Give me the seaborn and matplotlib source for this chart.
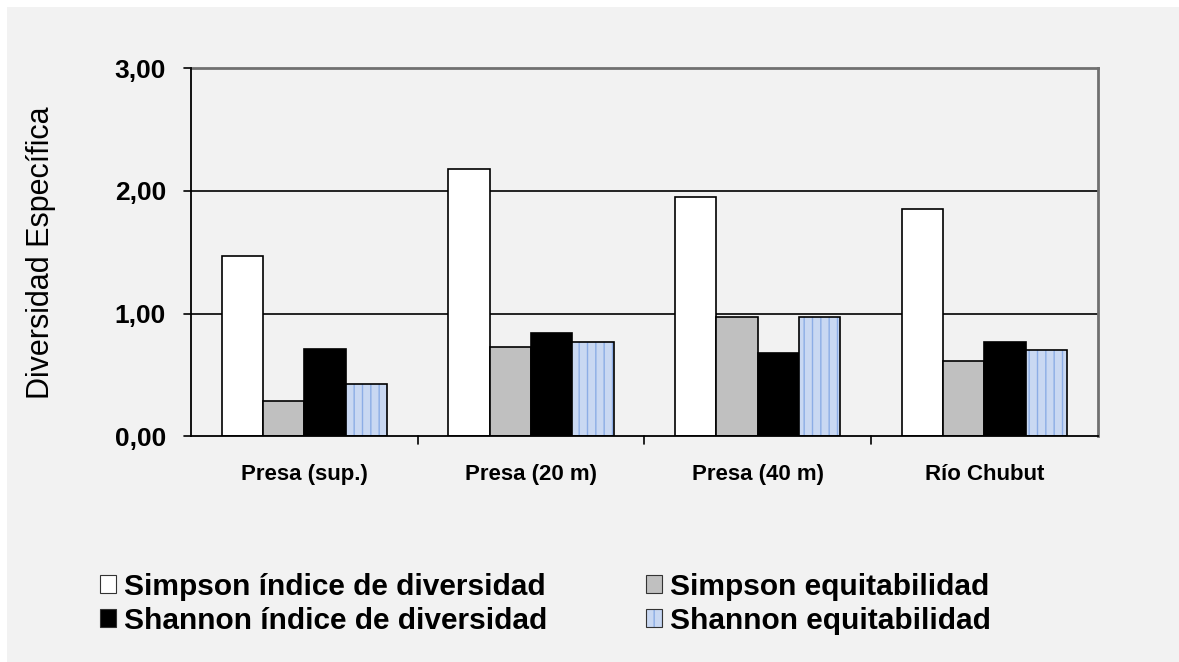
import numpy as np
import pandas as pd
import seaborn as sns
import matplotlib.pyplot as plt
from matplotlib.patches import Patch, Rectangle

# datos
sitios = ['Presa (sup.)', 'Presa (20 m)', 'Presa (40 m)', 'Río Chubut']
indices = ['Simpson índice de diversidad', 'Simpson equitabilidad',
           'Shannon índice de diversidad', 'Shannon equitabilidad']
simpson_div = [1.47, 2.18, 1.95, 1.85]
simpson_eq = [0.29, 0.73, 0.97, 0.61]
shannon_div = [0.71, 0.84, 0.68, 0.77]
shannon_eq = [0.43, 0.77, 0.97, 0.70]

colores = ['#ffffff', '#c0c0c0', '#000000', '#c9d8f2']

df = pd.DataFrame({
    'sitio': sitios * 4,
    'indice': np.repeat(indices, 4),
    'valor': simpson_div + simpson_eq + shannon_div + shannon_eq,
})

sns.set_style('white')
plt.rcParams['font.family'] = ['Liberation Sans', 'DejaVu Sans']
plt.rcParams['text.color'] = 'black'
plt.rcParams['axes.labelcolor'] = 'black'
plt.rcParams['xtick.color'] = 'black'
plt.rcParams['ytick.color'] = 'black'
bg = '#f2f2f2'

fig = plt.figure(figsize=(11.79, 6.62), dpi=100, facecolor=bg)
# franja blanca arriba y a la izquierda
fig.patches.append(Rectangle((0, 0), 7 / 1179, 1, transform=fig.transFigure,
                             facecolor='white', edgecolor='none'))
fig.patches.append(Rectangle((0, 1 - 7 / 662), 1, 7 / 662, transform=fig.transFigure,
                             facecolor='white', edgecolor='none'))
ax = fig.add_axes([0.162, 0.341, 0.769, 0.556])
ax.set_zorder(2)
ax.set_facecolor(bg)

sns.barplot(data=df, x='sitio', y='valor', hue='indice', hue_order=indices,
            palette=colores, saturation=1, width=0.73, edgecolor='black',
            linewidth=1.2, ax=ax, legend=False, zorder=3)

# patron de rayas para Shannon equitabilidad
for cont in ax.containers[3:4]:
    for p in cont:
        p.set_hatch('||')
        p._hatch_color = (0.55, 0.68, 0.9, 1)

ax.set_ylim(0, 3)
ax.set_xlim(-0.5, 3.5)
ax.set_yticks([0, 1, 2, 3])
ax.set_yticklabels(['0,00', '1,00', '2,00', '3,00'], fontsize=19, fontweight='bold')
ax.set_xticks([0, 1, 2, 3])
ax.set_xticklabels(sitios, fontsize=16, fontweight='bold')
ax.tick_params(axis='x', length=0, pad=20)
ax.tick_params(axis='y', length=0, pad=18)
ax.set_xlabel('')
ax.set_ylabel('Diversidad Específica', fontsize=22, labelpad=42)

for y in [1, 2]:
    ax.axhline(y, color='black', lw=1.2, zorder=1)
# marcas en los limites de categoria
for x in [0.5, 1.5, 2.5]:
    ax.plot([x, x], [0, -0.06], color='black', lw=1.2, clip_on=False)
for y in [0, 1, 2, 3]:
    ax.plot([-0.53, -0.5], [y, y], color='black', lw=1.2, clip_on=False)

for s in ['left', 'bottom']:
    ax.spines[s].set_color('black')
    ax.spines[s].set_linewidth(1.3)
for s in ['top', 'right']:
    ax.spines[s].set_color('#707070')
    ax.spines[s].set_linewidth(2)
ax.spines['left'].set_zorder(4)
ax.spines['bottom'].set_zorder(4)

handles = [Patch(facecolor=c, edgecolor='#333333', linewidth=0.8) for c in colores]
handles[3].set_hatch('||')
handles[3]._hatch_color = (0.55, 0.68, 0.9, 1)
orden = [0, 2, 1, 3]
fig.legend([handles[i] for i in orden], [indices[i] for i in orden],
           loc='center left', bbox_to_anchor=(0.062, 0.088), ncol=2,
           frameon=False, handlelength=0.55, handleheight=0.55,
           handletextpad=0.25, columnspacing=3.3, labelspacing=0.2,
           prop={'weight': 'bold', 'size': 21.5})

fig.savefig('out.png', dpi=100, facecolor=fig.get_facecolor())
